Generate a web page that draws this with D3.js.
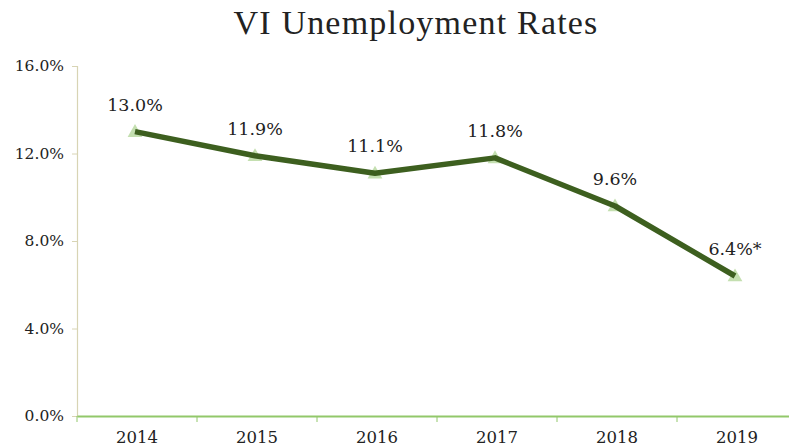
<!DOCTYPE html>
<html><head><meta charset="utf-8">
<script src="https://cdn.jsdelivr.net/npm/d3@7"></script>
<style>body{margin:0;background:#fff}svg{display:block}</style>
</head><body>
<svg id="c" width="789" height="448"></svg>
<script>
const years = ["2014","2015","2016","2017","2018","2019"];
const rates = [13.0, 11.9, 11.1, 11.8, 9.6, 6.4];
const labels = ["13.0%","11.9%","11.1%","11.8%","9.6%","6.4%*"];
const yTicks = [0, 4, 8, 12, 16];

const svg = d3.select("#c");
const x = d3.scaleBand().domain(years).range([77, 797]);
const y = d3.scaleLinear().domain([0, 16]).range([416, 66]);

svg.append("text").attr("x", 416).attr("y", 34).attr("text-anchor", "middle")
  .attr("font-family", "Liberation Serif, serif").attr("font-size", 34)
  .attr("letter-spacing", 1.2).attr("fill", "#222")
  .text("VI Unemployment Rates");

const ya = svg.append("g").attr("transform", "translate(77,0)")
  .call(d3.axisLeft(y).tickValues(yTicks).tickFormat(d => d.toFixed(1) + "%").tickSize(5).tickPadding(8));
ya.select(".domain").attr("stroke", "#d8d4b4").attr("stroke-width", 1.2);
ya.selectAll(".tick line").attr("stroke", "#d8d4b4");
ya.selectAll("text").attr("font-family", "DejaVu Serif, serif").attr("font-size", 15.5).attr("fill", "#222");

const xa = svg.append("g").attr("transform", "translate(0,416)")
  .call(d3.axisBottom(x).tickSize(0).tickPadding(15));
xa.select(".domain").attr("stroke", "#92c86a").attr("stroke-width", 2);
xa.selectAll("text").attr("font-family", "DejaVu Serif, serif").attr("font-size", 16.5).attr("fill", "#222");
svg.append("g").selectAll("line").data(years).join("line")
  .attr("x1", d => x(d)).attr("x2", d => x(d)).attr("y1", 416).attr("y2", 422)
  .attr("stroke", "#92c86a").attr("stroke-width", 1);

const cx = d => x(d) + x.bandwidth() / 2 - 2;
const pts = years.map((d, i) => [cx(d), y(rates[i])]);

svg.append("g").selectAll("path").data(pts).join("path")
  .attr("transform", p => `translate(${p[0]},${p[1] + 1})`)
  .attr("d", d3.symbol().type(d3.symbolTriangle).size(95))
  .attr("fill", "#c4dfb0");

svg.append("path").attr("d", d3.line()(pts)).attr("fill", "none")
  .attr("stroke", "#3d5f1f").attr("stroke-width", 5.5).attr("stroke-linejoin", "round");

svg.append("g").selectAll("text").data(years).join("text")
  .attr("x", (d, i) => cx(d)).attr("y", (d, i) => y(rates[i]) - 21)
  .attr("text-anchor", "middle")
  .attr("font-family", "DejaVu Serif, serif").attr("font-size", 17.5).attr("fill", "#222")
  .text((d, i) => labels[i]);
</script>
</body></html>
